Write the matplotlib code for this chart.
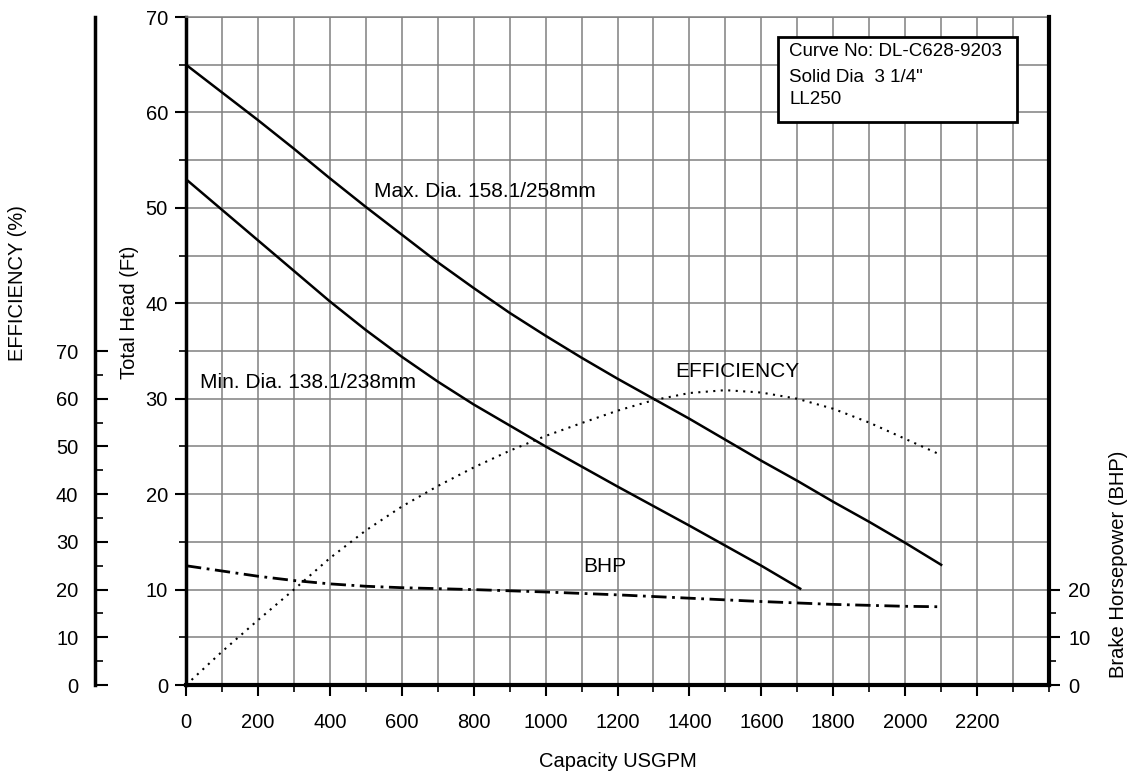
import matplotlib
matplotlib.use("Agg")
import matplotlib.pyplot as plt
from matplotlib.ticker import MultipleLocator, FixedLocator
from matplotlib.patches import Rectangle

plt.rcParams['font.family'] = ['Liberation Sans', 'DejaVu Sans']

# pump curves (flow in USGPM)
flow_max = [0, 100, 200, 300, 400, 500, 600, 700, 800, 900, 1000, 1100, 1200, 1300,
            1400, 1500, 1600, 1700, 1800, 1900, 2000, 2100]
head_max = [65, 62.1, 59.2, 56.2, 53.1, 50.1, 47.2, 44.3, 41.6, 39.0, 36.6, 34.3, 32.1, 30.0,
            27.9, 25.7, 23.5, 21.4, 19.2, 17.1, 14.9, 12.6]

flow_min = [0, 100, 200, 300, 400, 500, 600, 700, 800, 900, 1000, 1100, 1200, 1300,
            1400, 1500, 1600, 1708]
head_min = [53, 49.8, 46.6, 43.4, 40.2, 37.2, 34.4, 31.8, 29.4, 27.2, 25.0, 22.9, 20.8, 18.75,
            16.7, 14.6, 12.5, 10.1]

flow_eff = [0, 100, 200, 300, 400, 500, 600, 700, 800, 900, 1000, 1100, 1200, 1300,
            1400, 1500, 1600, 1700, 1800, 1900, 2000, 2100]
efficiency = [0, 7.0, 13.6, 20, 26.6, 32.4, 37.4, 41.7, 45.6, 49.1, 52.2, 54.9, 57.5, 59.7,
              61.2, 61.8, 61.3, 60, 57.9, 55, 51.6, 48.2]

flow_bhp = [0, 100, 200, 300, 400, 500, 600, 800, 1000, 1200, 1400, 1600, 1800, 2000, 2100]
bhp = [25, 23.9, 22.8, 21.9, 21.2, 20.7, 20.4, 20.0, 19.5, 18.9, 18.2, 17.5, 16.9, 16.5, 16.4]

x_ticks = [0, 200, 400, 600, 800, 1000, 1200, 1400, 1600, 1800, 2000, 2200]
eff_ticks = [0, 10, 20, 30, 40, 50, 60, 70]
bhp_ticks = [0, 10, 20]

fig = plt.figure(figsize=(11.31, 7.75), dpi=100)
ax = fig.add_axes([0.1645, 0.1161, 0.763, 0.8619])

ax.set_xlim(0, 2400)
ax.set_ylim(0, 70)
ax.xaxis.set_major_locator(FixedLocator(x_ticks))
ax.xaxis.set_minor_locator(MultipleLocator(100))
ax.yaxis.set_major_locator(MultipleLocator(10))
ax.yaxis.set_minor_locator(MultipleLocator(5))
ax.grid(which='both', color='#808080', linewidth=1.1)
ax.set_axisbelow(True)
ax.tick_params(axis='both', which='major', length=8, width=1.5, labelsize=14.5, colors='black')
ax.tick_params(axis='both', which='minor', length=5, width=1.2)
ax.tick_params(axis='x', pad=12)
ax.tick_params(axis='y', pad=5)
ax.spines['bottom'].set_linewidth(3)
ax.spines['left'].set_linewidth(2.5)
ax.spines['top'].set_color('#808080')
ax.spines['top'].set_linewidth(1.1)
ax.spines['right'].set_visible(False)

ax.plot(flow_max, head_max, color='black', linewidth=1.8)
ax.plot(flow_min, head_min, color='black', linewidth=1.8)

ax.set_xlabel('Capacity USGPM', fontsize=14.5)
ax.xaxis.set_label_coords(0.5, -0.115)
ax.xaxis.label.set_va('center')
ax.set_ylabel('Total Head (Ft)', fontsize=14.5)
ax.yaxis.set_label_coords(-0.065, 0.558)
ax.yaxis.label.set_va('center')

ax.text(522, 51.7, 'Max. Dia. 158.1/258mm', fontsize=15, va='center')
ax.text(38, 31.7, 'Min. Dia. 138.1/238mm', fontsize=15, va='center')
ax.text(1360, 32.9, 'EFFICIENCY', fontsize=15, va='center')
ax.text(1106, 12.4, 'BHP', fontsize=15, va='center')

# info box
ax.add_patch(Rectangle((1646, 59.0), 664, 8.9, facecolor='white', edgecolor='black',
                       linewidth=2, zorder=5))
ax.text(1678, 66.4, 'Curve No: DL-C628-9203', fontsize=13.5, va='center', zorder=6)
ax.text(1678, 63.7, 'Solid Dia  3 1/4"', fontsize=13.5, va='center', zorder=6)
ax.text(1678, 61.4, 'LL250', fontsize=13.5, va='center', zorder=6)

# efficiency axis on far left
ax_eff = ax.twinx()
ax_eff.set_ylim(0, 140)
ax_eff.spines['left'].set_position(('axes', -0.1055))
ax_eff.spines['left'].set_linewidth(2.5)
ax_eff.spines['right'].set_visible(False)
ax_eff.spines['top'].set_visible(False)
ax_eff.spines['bottom'].set_visible(False)
ax_eff.yaxis.set_ticks_position('left')
ax_eff.yaxis.set_label_position('left')
ax_eff.yaxis.set_major_locator(FixedLocator(eff_ticks))
ax_eff.yaxis.set_minor_locator(FixedLocator([5, 15, 25, 35, 45, 55, 65]))
ax_eff.tick_params(axis='y', which='major', direction='in', length=9, width=1.5,
                   labelsize=14.5, pad=12)
ax_eff.tick_params(axis='y', which='minor', direction='in', length=6, width=1.2)
ax_eff.set_ylabel('EFFICIENCY (%)', fontsize=14.5)
ax_eff.yaxis.set_label_coords(-0.195, 0.602)
ax_eff.yaxis.label.set_va('center')
ax_eff.plot(flow_eff, efficiency, color='black', linewidth=1.5, linestyle=(0, (1, 2.6)))

# brake horsepower axis on the right
ax_bhp = ax.twinx()
ax_bhp.set_ylim(0, 140)
ax_bhp.spines['right'].set_linewidth(3)
ax_bhp.spines['left'].set_visible(False)
ax_bhp.spines['top'].set_visible(False)
ax_bhp.spines['bottom'].set_visible(False)
ax_bhp.yaxis.set_major_locator(FixedLocator(bhp_ticks))
ax_bhp.yaxis.set_minor_locator(FixedLocator([5, 15]))
ax_bhp.tick_params(axis='y', which='major', length=8, width=1.5, labelsize=14.5, pad=6)
ax_bhp.tick_params(axis='y', which='minor', length=5, width=1.2)
ax_bhp.set_ylabel('Brake Horsepower (BHP)', fontsize=14.5)
ax_bhp.yaxis.set_label_coords(1.081, 0.18)
ax_bhp.yaxis.label.set_va('center')
ax_bhp.plot(flow_bhp, bhp, color='black', linewidth=2, linestyle=(0, (5.5, 2, 1, 2)))

fig.savefig('out.png', dpi=100)
